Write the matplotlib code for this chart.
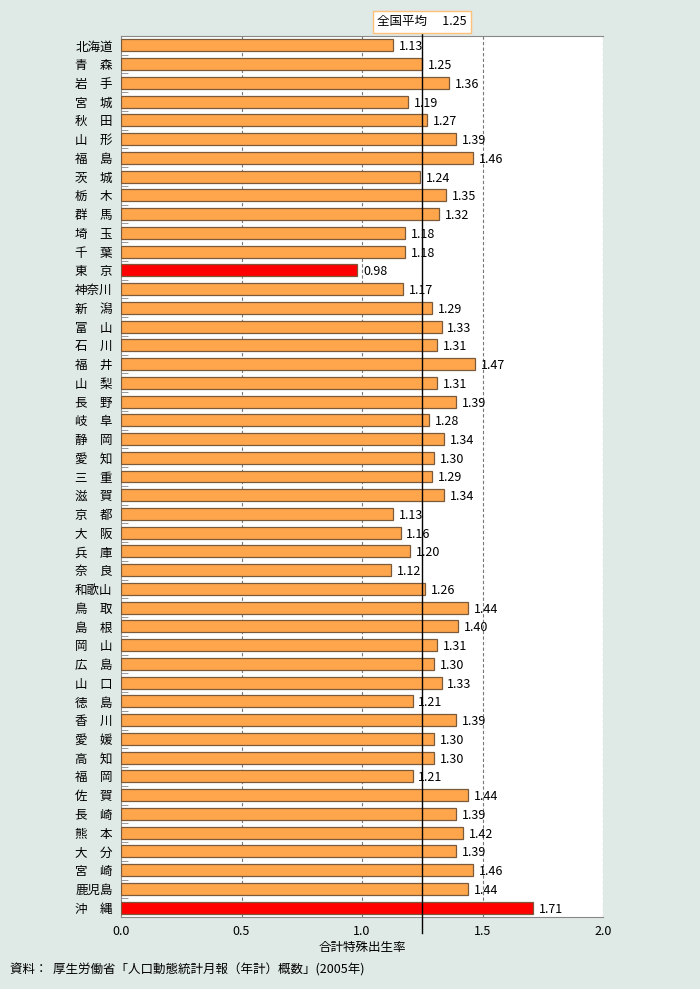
import numpy as np
import matplotlib.pyplot as plt
import matplotlib.transforms as mtransforms

plt.rcParams['font.family'] = ['Noto Sans CJK JP', 'DejaVu Sans']

prefs = ['北海道', '青　森', '岩　手', '宮　城', '秋　田', '山　形', '福　島', '茨　城',
         '栃　木', '群　馬', '埼　玉', '千　葉', '東　京', '神奈川', '新　潟', '富　山',
         '石　川', '福　井', '山　梨', '長　野', '岐　阜', '静　岡', '愛　知', '三　重',
         '滋　賀', '京　都', '大　阪', '兵　庫', '奈　良', '和歌山', '鳥　取', '島　根',
         '岡　山', '広　島', '山　口', '徳　島', '香　川', '愛　媛', '高　知', '福　岡',
         '佐　賀', '長　崎', '熊　本', '大　分', '宮　崎', '鹿児島', '沖　縄']
rates = [1.13, 1.25, 1.36, 1.19, 1.27, 1.39, 1.46, 1.24, 1.35, 1.32, 1.18, 1.18,
         0.98, 1.17, 1.29, 1.33, 1.31, 1.47, 1.31, 1.39, 1.28, 1.34, 1.30, 1.29,
         1.34, 1.13, 1.16, 1.20, 1.12, 1.26, 1.44, 1.40, 1.31, 1.30, 1.33, 1.21,
         1.39, 1.30, 1.30, 1.21, 1.44, 1.39, 1.42, 1.39, 1.46, 1.44, 1.71]
highlight = ['東　京', '沖　縄']
national_avg = 1.25

bg = '#dfe9e6'
fig = plt.figure(figsize=(7.0, 9.89), dpi=100, facecolor=bg)
ax = fig.add_axes([121/700, 1 - 917/989, 482/700, 881/989])
ax.set_facecolor('white')

y = np.arange(len(prefs))
colors = ['#ff0000' if p in highlight else '#ffa64d' for p in prefs]
ax.barh(y, rates, height=0.64, color=colors, edgecolor='#7a5a3a', linewidth=0.9, zorder=3)

# value labels
for yi, v in zip(y, rates):
    ax.text(v + 0.024, yi + 0.08, '%.2f' % v, va='center', ha='left', fontsize=9, zorder=4)

ax.set_xlim(0, 2.0)
ax.set_ylim(len(prefs) - 0.5, -0.5)
ax.set_yticks(y)
ax.set_yticklabels(prefs, fontsize=9)
ax.tick_params(axis='y', length=0, pad=6)
# small ticks on category boundaries
ax.set_yticks(np.arange(len(prefs) + 1) - 0.5, minor=True)
ax.tick_params(axis='y', which='minor', length=5, direction='in', color='#888888')
ax.set_xticks([0, 0.5, 1.0, 1.5, 2.0])
ax.set_xticklabels(['0.0', '0.5', '1.0', '1.5', '2.0'], fontsize=9)
ax.tick_params(axis='x', length=0, pad=6)
for xv in [0.5, 1.0, 1.5, 2.0]:
    ax.axvline(xv, color='#777777', linestyle=(0, (3, 2)), linewidth=0.8, zorder=1)
for s in ax.spines.values():
    s.set_color('#888888')
ax.spines['right'].set_visible(False)

ax.set_xlabel('合計特殊出生率', fontsize=9, labelpad=2)

# national average line
trans = mtransforms.blended_transform_factory(ax.transData, ax.transAxes)
ax.plot([national_avg, national_avg], [1.004, -0.018], color='black', linewidth=1.0,
        transform=trans, clip_on=False, zorder=5)
ax.text(national_avg, 1.016, '全国平均　 %.2f' % national_avg, transform=trans,
        ha='center', va='center', fontsize=9, zorder=6,
        bbox=dict(boxstyle='square,pad=0.35', facecolor='white', edgecolor='#ffc07a', linewidth=1))

fig.text(10/700, 1 - 970/989, '資料：  厚生労働省「人口動態統計月報（年計）概数」(2005年)',
         fontsize=9, va='center', ha='left')

fig.savefig('out.png', dpi=100, facecolor=bg)
